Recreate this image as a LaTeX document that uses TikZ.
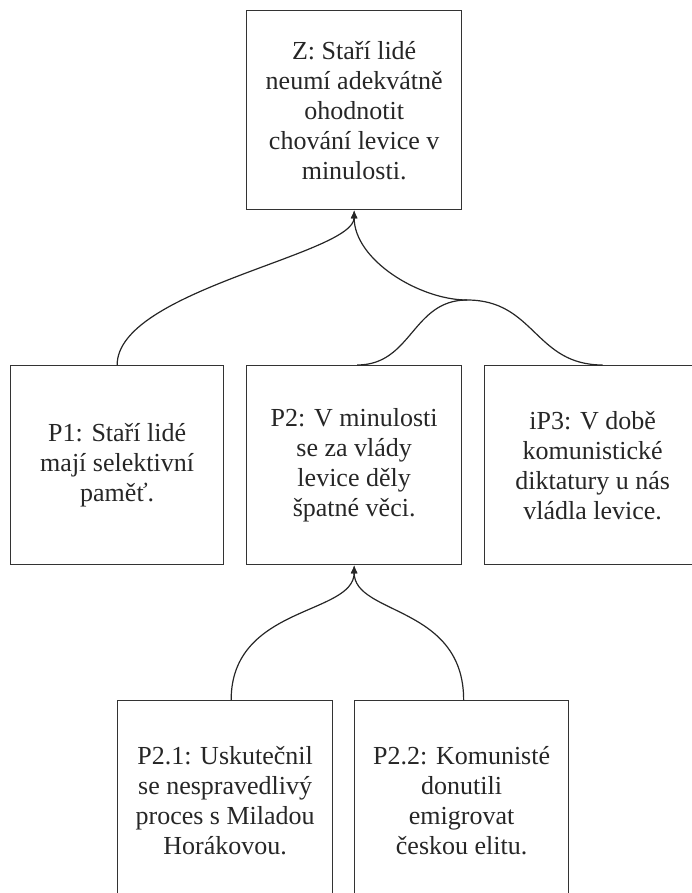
\documentclass[tikz,border=0pt]{standalone}
\usepackage{fontspec}
\setmainfont{Liberation Serif}
\usetikzlibrary{arrows.meta}
\begin{document}
\begin{tikzpicture}[x=1pt,y=-1pt,
  box/.style={draw=black!80, line width=1.3pt, minimum height=199pt, align=center,
    font=\fontsize{26}{30}\selectfont, text=black!85, inner sep=0pt, anchor=north west},
  link/.style={draw=black!85, line width=1.2pt},
  tip/.style={-{Latex[length=8pt,width=7pt]}}]
\useasboundingbox (0,0) rectangle (692,893);
\clip (0,0) rectangle (692,893);
\node[box, minimum width=215pt] (Z) at (246,10) {Z: Staří lidé\\neumí adekvátně\\ohodnotit\\chování levice v\\minulosti.};
\node[box, minimum width=213pt] (P1) at (10,365) {P1: Staří lidé\\mají selektivní\\paměť.};
\node[box, minimum width=215pt] (P2) at (246,365) {P2: V minulosti\\se za vlády\\levice děly\\špatné věci.};
\node[box, minimum width=216pt] (P3) at (484,365) {iP3: V době\\komunistické\\diktatury u nás\\vládla levice.};
\node[box, minimum width=215pt] (P21) at (117,700) {P2.1: Uskutečnil\\se nespravedlivý\\proces s Miladou\\Horákovou.};
\node[box, minimum width=214pt] (P22) at (354,700) {P2.2: Komunisté\\donutili\\emigrovat\\českou elitu.};
\coordinate (J) at (467,300);
\draw[link,tip] (P1.north) .. controls +(0,-75) and +(0,44) .. (Z.south);
\draw[link] ([xshift=3pt]P2.north) .. controls +(55,0) and +(-55,0) .. (J);
\draw[link] ([xshift=10pt]P3.north) .. controls +(-68,0) and +(68,0) .. (J);
\draw[link,tip] (J) .. controls +(-47,0) and +(0,50) .. (Z.south);
\draw[link,tip] ([xshift=6pt]P21.north) .. controls +(0,-95) and +(0,50) .. (P2.south);
\draw[link,tip] ([xshift=2pt]P22.north) .. controls +(0,-95) and +(0,50) .. (P2.south);
\end{tikzpicture}
\end{document}
